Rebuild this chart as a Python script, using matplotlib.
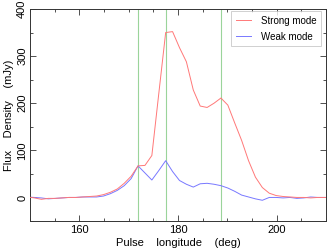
import matplotlib
matplotlib.use("Agg")
import matplotlib.pyplot as plt
from matplotlib.ticker import MultipleLocator

plt.rcParams['font.family'] = ['Liberation Sans', 'DejaVu Sans']

longitude = [149.5, 150.9, 152.3, 153.7, 155.1, 156.5, 157.9, 159.3, 160.7, 162.1,
             163.5, 164.9, 166.3, 167.7, 169.1, 170.5, 171.9, 173.3, 174.7, 176.1,
             177.5, 178.9, 180.3, 181.7, 183.1, 184.5, 185.9, 187.3, 188.7, 190.1,
             191.5, 192.9, 194.3, 195.7, 197.1, 198.5, 199.9, 201.3, 202.7, 204.1,
             205.5, 206.9, 208.3, 209.7, 211.1]
strong = [1, -1, -4, -2, -2, -1, 0, 0, 1, 2,
          3, 6, 11, 18, 30, 45, 67, 68, 89, 220,
          350, 352, 318, 288, 228, 194, 191, 200, 211, 196,
          158, 121, 78, 43, 21, 9, 4, 2, 1, 0,
          0, -1, 0, 0, 0]
weak = [1, 0, -1, -3, -2, -1, 0, 0, 1, 1,
        1, 3, 8, 15, 25, 40, 67, 52, 37, 57,
        78, 55, 36, 28, 22, 29, 30, 28, 25, 20,
        13, 5, 1, -3, -6, 0, 0, -1, 0, -2,
        -1, 1, 0, 0, 0]
vlines = [171.9, 177.5, 188.7]

fig = plt.figure(figsize=(3.32, 2.52), dpi=100)
L, R, T, B = 30, 326, 9, 221
ax = fig.add_axes([L/332, 1-B/252, (R-L)/332, (B-T)/252])

for v in vlines:
    ax.axvline(v, color='#9ad49a', lw=0.8, zorder=1)
ax.plot(longitude, strong, color='#ff7878', lw=0.7, label='Strong mode', zorder=3)
ax.plot(longitude, weak, color='#7878ff', lw=0.7, label='Weak mode', zorder=2)

ax.set_xlim(150, 210)
ax.set_ylim(-50, 400)
ax.xaxis.set_major_locator(MultipleLocator(20))
ax.xaxis.set_minor_locator(MultipleLocator(5))
ax.yaxis.set_major_locator(MultipleLocator(100))
ax.yaxis.set_minor_locator(MultipleLocator(50))
ax.tick_params(which='both', direction='in', top=True, right=True, labelsize=8,
               color='#333333')
ax.tick_params(which='major', length=4, width=0.6)
ax.tick_params(which='minor', length=2.5, width=0.6)
ax.tick_params(axis='x', pad=3)
ax.tick_params(axis='y', pad=2)
for lbl in ax.get_yticklabels():
    lbl.set_rotation(90)
    lbl.set_va('center')
for s in ax.spines.values():
    s.set_linewidth(0.7)
    s.set_color('#333333')

ax.set_xlabel('Pulse    longitude    (deg)', fontsize=8, labelpad=2)
ax.set_ylabel('Flux    Density    (mJy)', fontsize=8, labelpad=2)

leg = ax.legend(loc='upper right', bbox_to_anchor=((321-L)/(R-L), 1-2.3/(B-T)),
                fontsize=7, frameon=True, fancybox=False,
                edgecolor='#bbbbbb', handlelength=1.6, borderaxespad=0,
                borderpad=0.45, labelspacing=0.6, handletextpad=1.0)
leg.get_frame().set_linewidth(0.6)

fig.savefig('out.png', dpi=100)
